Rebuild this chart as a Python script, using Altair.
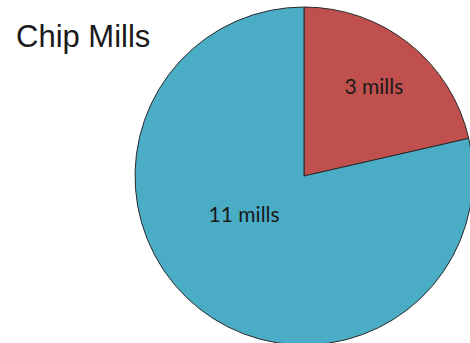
import altair as alt
import pandas as pd

categories = ["Group A", "Group B"]
mills = [3, 11]
labels = ["3 mills", "11 mills"]
colors = ["#C0504D", "#4BACC6"]
title_text = "Chip Mills"

df = pd.DataFrame({"cat": categories, "mills": mills, "label": labels, "idx": [0, 1]})

CX, CY, R = 304, 176, 169

base = alt.Chart(df).encode(
    theta=alt.Theta("mills:Q", stack=True),
    order=alt.Order("idx:Q"),
)

pie = base.mark_arc(radius=R, stroke="#2b2b2b", strokeWidth=1).encode(
    x=alt.value(CX),
    y=alt.value(CY),
    color=alt.Color("cat:N", scale=alt.Scale(domain=categories, range=colors), legend=None),
)

txt_blue = base.mark_text(radius=72, dx=-15, dy=-16, font="Lato", fontSize=21, color="#1a1a1a").encode(
    x=alt.value(CX), y=alt.value(CY), text="label:N",
    opacity=alt.condition(alt.datum.idx == 1, alt.value(1), alt.value(0)),
)
txt_red = base.mark_text(radius=112, font="Lato", fontSize=21, color="#1a1a1a").encode(
    x=alt.value(CX), y=alt.value(CY), text="label:N",
    opacity=alt.condition(alt.datum.idx == 0, alt.value(1), alt.value(0)),
)

title = alt.Chart(pd.DataFrame({"t": [title_text]})).mark_text(
    font="Liberation Sans", fontSize=31, align="left", baseline="alphabetic", color="#1a1a1a"
).encode(x=alt.value(16), y=alt.value(47), text="t:N")

chart = alt.layer(pie, txt_red, txt_blue, title).properties(
    width=470, height=343, padding=0, autosize=alt.AutoSizeParams(type="none")
).configure_view(stroke=None)

chart.save("out.html", embed_options={"renderer": "svg", "actions": False})
